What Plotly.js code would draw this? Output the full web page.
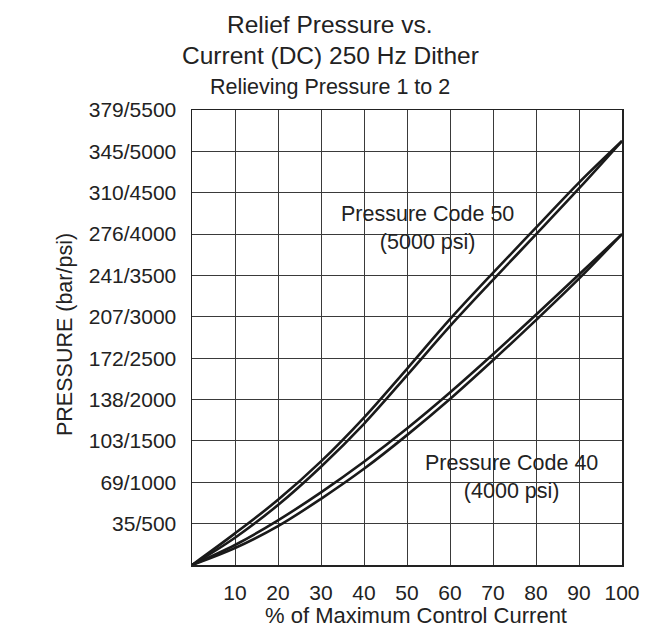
<!DOCTYPE html>
<html>
<head>
<meta charset="utf-8">
<script src="https://cdn.plot.ly/plotly-3.0.1.min.js"></script>
<style>html,body{margin:0;padding:0;background:#fff;}#chart{width:645px;height:627px;}</style>
</head>
<body>
<div id="chart"></div>
<script>
// % of maximum control current
const pct = [0, 10, 20, 30, 40, 50, 60, 70, 80, 90, 100];
// Pressure Code 50 (5000 psi) – two branches of the hysteresis loop, psi
const code50Upper = [0, 382, 788, 1252, 1782, 2372, 2972, 3532, 4077, 4622, 5125];
const code50Lower = [0, 330, 725, 1188, 1707, 2292, 2887, 3447, 3997, 4552, 5125];
// Pressure Code 40 (4000 psi) – two branches, psi
const code40Upper = [0, 242, 540, 878, 1248, 1650, 2085, 2547, 3025, 3511, 4000];
const code40Lower = [0, 205, 470, 800, 1163, 1570, 2007, 2475, 2960, 3461, 4000];

const xTickVals = [10, 20, 30, 40, 50, 60, 70, 80, 90, 100];
const xTickText = ["10", "20", "30", "40", "50", "60", "70", "80", "90", "100"];
const yTickVals = [500, 1000, 1500, 2000, 2500, 3000, 3500, 4000, 4500, 5000, 5500];
const yTickText = ["35/500", "69/1000", "103/1500", "138/2000", "172/2500", "207/3000",
                   "241/3500", "276/4000", "310/4500", "345/5000", "379/5500"];

const FONT = "Liberation Sans, Arial, Helvetica, sans-serif";
const INK = "#222";
const lineStyle = {color: "#1a1a1a", width: 2.6, shape: "spline", smoothing: 1};

const series = [code50Upper, code50Lower, code40Upper, code40Lower];
const traces = series.map(s => ({
  x: pct, y: s, type: "scatter", mode: "lines", line: lineStyle,
  cliponaxis: false, hoverinfo: "skip"
}));

// layout helpers: pixel position inside the 645x627 page -> paper coords
const PL = 192, PR = 622, PT = 110, PB = 565;
const px = v => (v - PL) / (PR - PL);
const py = v => (PB - v) / (PB - PT);
// white masks that break the grid behind the in-plot labels (drawn under the curves)
const mask = (x0, y0, x1, y1) => ({
  type: "rect", xref: "paper", yref: "paper", layer: "between",
  x0: px(x0), x1: px(x1), y0: py(y1), y1: py(y0),
  fillcolor: "#fff", line: {width: 0}
});

const layout = {
  width: 645, height: 627,
  margin: {l: 192, r: 23, t: 110, b: 62, pad: 0},
  paper_bgcolor: "#fff", plot_bgcolor: "#fff",
  showlegend: false,
  font: {family: FONT, color: INK, size: 21},
  xaxis: {
    range: [0, 100], tickvals: xTickVals, ticktext: xTickText,
    showgrid: true, gridcolor: "#3a3a3a", gridwidth: 1,
    zeroline: false, showline: true, linecolor: "#222", linewidth: 1.5, mirror: true,
    ticks: "", ticklabelstandoff: 8, tickfont: {family: FONT, size: 21, color: INK},
    fixedrange: true
  },
  yaxis: {
    range: [0, 5500], tickvals: yTickVals, ticktext: yTickText,
    showgrid: true, gridcolor: "#3a3a3a", gridwidth: 1,
    zeroline: false, showline: true, linecolor: "#222", linewidth: 1.5, mirror: true,
    ticks: "", ticklabelstandoff: 10, tickfont: {family: FONT, size: 21, color: INK},
    fixedrange: true
  },
  shapes: [
    mask(333, 200, 522, 227),
    mask(368, 227, 487, 259),
    mask(418, 449, 606, 476),
    mask(458, 476, 566, 506)
  ],
  annotations: [
    {text: "Relief Pressure vs.", xref: "paper", yref: "paper", x: px(330), y: py(24.5),
     xanchor: "center", yanchor: "middle", showarrow: false, font: {size: 24.5, family: FONT, color: INK}},
    {text: "Current (DC) 250 Hz Dither", xref: "paper", yref: "paper", x: px(330), y: py(55.6),
     xanchor: "center", yanchor: "middle", showarrow: false, font: {size: 24.5, family: FONT, color: INK}},
    {text: "Relieving Pressure 1 to 2", xref: "paper", yref: "paper", x: px(330), y: py(86.6),
     xanchor: "center", yanchor: "middle", showarrow: false, font: {size: 21.5, family: FONT, color: INK}},
    {text: "PRESSURE (bar/psi)", xref: "paper", yref: "paper", x: px(65), y: py(335),
     xanchor: "center", yanchor: "middle", textangle: -90, showarrow: false,
     font: {size: 21.5, family: FONT, color: INK}},
    {text: "% of Maximum Control Current", xref: "paper", yref: "paper", x: px(415.8), y: py(615),
     xanchor: "center", yanchor: "middle", showarrow: false, font: {size: 22, family: FONT, color: INK}},
    {text: "Pressure Code 50<br>(5000 psi)", xref: "paper", yref: "paper",
     x: px(427.5), y: py(227.5), xanchor: "center", yanchor: "middle",
     showarrow: false, font: {size: 21.5, family: FONT, color: INK}},
    {text: "Pressure Code 40<br>(4000 psi)", xref: "paper", yref: "paper",
     x: px(511.5), y: py(476.5), xanchor: "center", yanchor: "middle",
     showarrow: false, font: {size: 21.5, family: FONT, color: INK}}
  ]
};

Plotly.newPlot("chart", traces, layout, {displayModeBar: false, staticPlot: true});
</script>
</body>
</html>
